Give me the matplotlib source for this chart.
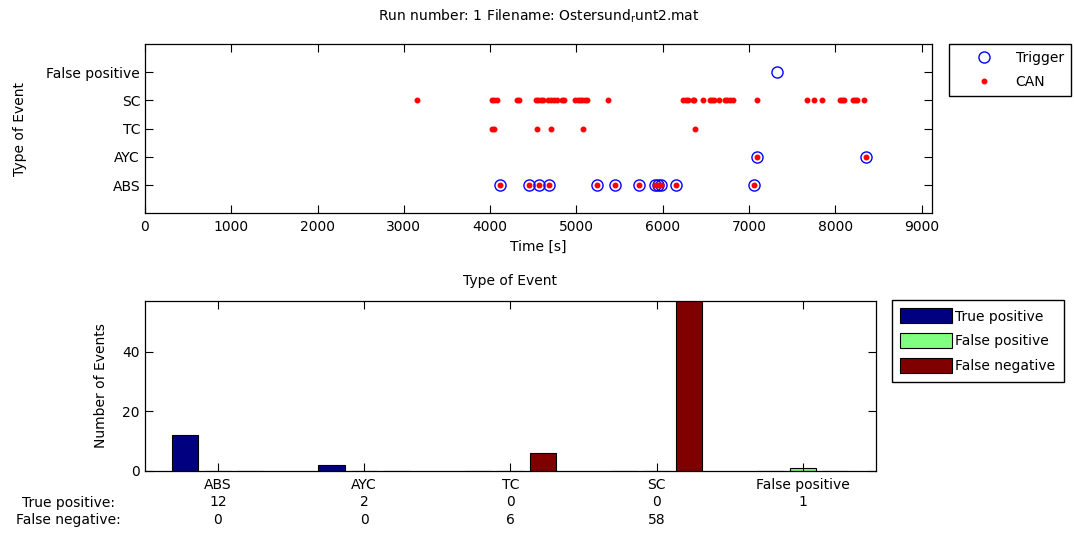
import numpy as np
import matplotlib
matplotlib.use("Agg")
import matplotlib.pyplot as plt

plt.rcParams['font.family'] = ['DejaVu Sans']
plt.rcParams['font.size'] = 10

# event categories (y rows of the upper plot, groups of the lower plot)
categories = ["ABS", "AYC", "TC", "SC", "False positive"]

# trigger times [s]
trigger_abs = [4117, 4449, 4565, 4681, 5237, 5446, 5727, 5915, 5950, 5979, 6149, 7060]
trigger_ayc = [7090, 8360]
trigger_fp = [7327]

# CAN times [s]
can_abs = [4117, 4449, 4565, 4681, 5237, 5446, 5727, 5915, 5950, 5979, 6149, 7060]
can_ayc = [7090, 8360]
can_tc = [4017, 4044, 4546, 4701, 5071, 6373]
can_sc = [3148, 4017, 4047, 4075, 4307, 4337, 4530, 4557, 4585, 4608, 4673,
          4701, 4739, 4770, 4828, 4855, 4982, 5014, 5040, 5067, 5098, 5125,
          5368, 6237, 6265, 6288, 6346, 6361, 6469, 6547, 6573, 6593, 6654,
          6720, 6747, 6778, 6810, 7095, 7667, 7752, 7841, 8053, 8080, 8099,
          8200, 8230, 8253, 8331]

# event counts per category
true_pos = [12, 2, 0, 0, 0]
false_pos = [0, 0, 0, 0, 1]
false_neg = [0, 0, 6, 58, 0]

fig = plt.figure(figsize=(10.74, 5.35), dpi=100)

# ---------------- upper plot: events over time ----------------
ax1 = fig.add_axes([0.135, 0.6013, 0.7328, 0.3165])

trig_t = np.concatenate([trigger_abs, trigger_ayc, trigger_fp])
trig_y = np.concatenate([np.full(len(trigger_abs), 1),
                         np.full(len(trigger_ayc), 2),
                         np.full(len(trigger_fp), 5)])
can_t = np.concatenate([can_abs, can_ayc, can_tc, can_sc])
can_y = np.concatenate([np.full(len(can_abs), 1),
                        np.full(len(can_ayc), 2),
                        np.full(len(can_tc), 3),
                        np.full(len(can_sc), 4)])

ax1.plot(trig_t, trig_y, 'o', mfc='none', mec='b', mew=1.0, ms=8, label='Trigger')
ax1.plot(can_t, can_y, '.', color='r', ms=6.5, label='CAN')

ax1.set_xlim(0, 9120)
ax1.set_ylim(0, 6)
ax1.set_xticks(np.arange(0, 9001, 1000))
ax1.set_yticks(np.arange(1, len(categories) + 1))
ax1.set_yticklabels(categories)
ax1.set_xlabel("Time [s]", labelpad=4)
ax1.set_ylabel("Type of Event", labelpad=14)
ax1.set_title(r"Run number: 1 Filename: Ostersund$_\mathrm{r}$unt2.mat",
              fontsize=10, pad=17)
ax1.legend(loc='upper left', bbox_to_anchor=(0.8836, 0.9178),
           bbox_transform=fig.transFigure, fancybox=False, edgecolor='k',
           framealpha=1, handlelength=4.0, borderpad=0.5, labelspacing=0.75,
           handletextpad=0.3, borderaxespad=0)

# ---------------- lower plot: counts per category ----------------
ax2 = fig.add_axes([0.1347, 0.1202, 0.6809, 0.3177])

x = np.arange(1, len(categories) + 1)
w = 0.18
off = 0.222
ax2.bar(x - off, true_pos, w, color='#000080', edgecolor='k', lw=0.8, label='True positive')
ax2.bar(x, false_pos, w, color='#80ff80', edgecolor='k', lw=0.8, label='False positive')
ax2.bar(x + off, false_neg, w, color='#800000', edgecolor='k', lw=0.8, label='False negative')

ax2.set_xlim(0.5, 5.5)
ax2.set_ylim(0, 57.2)
ax2.set_yticks([0, 20, 40])
ax2.set_xticks(x)
labels = []
for i, cat in enumerate(categories):
    if cat == "False positive":
        labels.append(f"{cat}\n{false_pos[i]}\n ")
    else:
        labels.append(f"{cat}\n{true_pos[i]}\n{false_neg[i]}")
ax2.set_xticklabels(labels, linespacing=1.32)
ax2.set_ylabel("Number of Events", labelpad=10)
ax2.set_title("Type of Event", fontsize=10, pad=11)
fig.text(68 / 1074, 1 - 511.5 / 535, "True positive:\nFalse negative:",
         ha='center', va='center', linespacing=1.32)
ax2.legend(loc='upper left', bbox_to_anchor=(0.8305, 0.4393),
           bbox_transform=fig.transFigure, fancybox=False, edgecolor='k',
           framealpha=1, handlelength=3.7, handleheight=1.3, borderpad=0.6,
           labelspacing=0.7, handletextpad=0.25, borderaxespad=0)

for ax in (ax1, ax2):
    ax.tick_params(direction='in', top=True, right=True, length=5.5, width=0.8)
    for s in ax.spines.values():
        s.set_linewidth(0.9)
ax1.tick_params(axis='x', pad=5)
ax2.tick_params(axis='x', pad=5)

fig.savefig("out.png", dpi=100)
